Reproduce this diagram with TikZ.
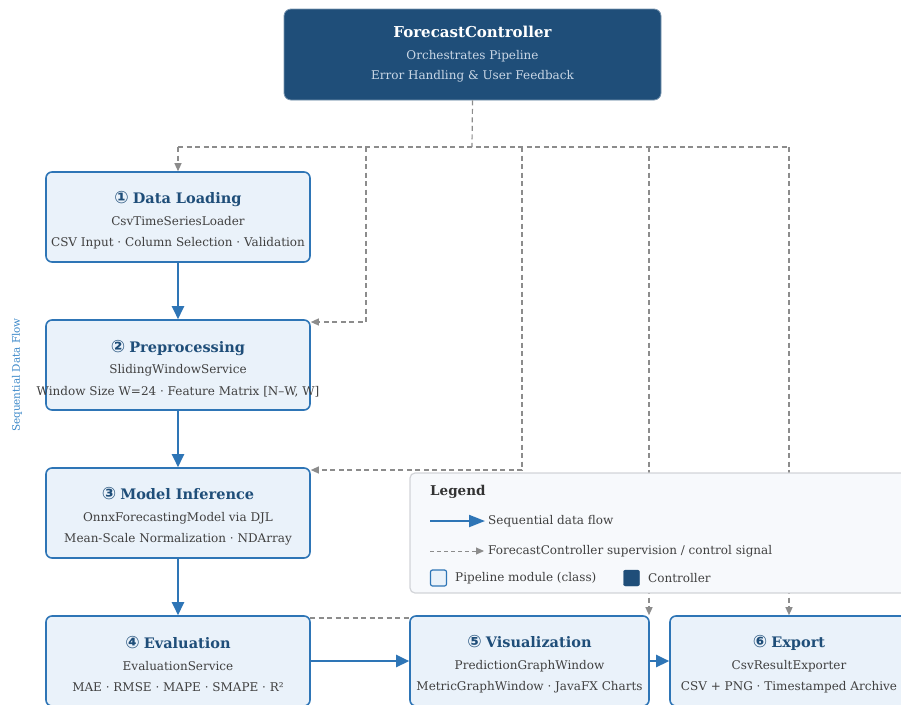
\documentclass[tikz,border=0pt]{standalone}
\usepackage{fontspec}
\setmainfont{DejaVu Serif}
\newfontfamily\circfont{DejaVu Sans}
\usetikzlibrary{arrows.meta}

\definecolor{navy}{HTML}{1F4E79}
\definecolor{flowblue}{HTML}{2E75B6}
\definecolor{modfill}{HTML}{EAF2FA}
\definecolor{bodytext}{HTML}{404040}
\definecolor{ctlgray}{HTML}{8C8C8C}
\definecolor{subtext}{HTML}{C9D7E6}
\definecolor{legfill}{HTML}{F7F9FC}
\definecolor{legline}{HTML}{D2D4D8}
\definecolor{sideblue}{HTML}{3A87C8}

% module heading: circled step number plus bold name; the strut nudges the block down a little
\newcommand\modtitle[2]{{\color{navy}\fontsize{14.5}{21}\selectfont\bfseries\rule{0pt}{19pt}{\circfont\fontsize{17}{21}\selectfont #1}\hspace{4pt}#2}}

\tikzset{
  x=1pt, y=-1pt,
  module/.style={draw=flowblue, line width=1.6pt, fill=modfill, rounded corners=6pt,
    minimum height=90pt, align=center, text=bodytext, inner sep=0pt,
    font=\fontsize{12}{21.5}\selectfont},
  ctrlbox/.style={draw=navy!60!white, line width=0.8pt, fill=navy, rounded corners=7pt,
    minimum width=377pt, minimum height=91pt, align=center, text=subtext, inner sep=0pt,
    font=\fontsize{12}{20.5}\selectfont},
  flow/.style={draw=flowblue, line width=2.4pt, -{Triangle[length=13pt, width=12pt]}},
  ctl/.style={draw=ctlgray, line width=1.2pt, dash pattern=on 5pt off 3.5pt},
  ctlarrow/.style={ctl, -{Triangle[length=8pt, width=7pt]}},
  legendbox/.style={draw=legline, line width=1.2pt, fill=legfill, rounded corners=5pt},
  legtext/.style={anchor=west, inner sep=0pt, text=bodytext, font=\fontsize{12}{14}\selectfont},
}

\begin{document}
\begin{tikzpicture}
\useasboundingbox (0,0) rectangle (901,704);

% controller
\node[ctrlbox] (ctrl) at (472.5,54.5)
  {{\color{white}\fontsize{15}{20}\selectfont\bfseries ForecastController}\\[1pt]
   Orchestrates Pipeline\\ Error Handling \& User Feedback};

% bus and branch points
\coordinate (bus) at (472,147);
\coordinate (b1) at (178,147);
\coordinate (b2) at (366,147);
\coordinate (b3) at (522,147);
\coordinate (b4) at (649,147);
\coordinate (b5) at (789,147);
\coordinate (p2) at (366,322);
\coordinate (p3) at (522,470);

% pipeline modules (the long Preprocessing line is allowed to spill past the frame)
\node[module, minimum width=264pt] (load) at (178,217)
  {\modtitle{①}{Data Loading}\\ CsvTimeSeriesLoader\\ CSV Input · Column Selection · Validation};
\node[module, minimum width=264pt] (prep) at (178,365)
  {\modtitle{②}{Preprocessing}\\ SlidingWindowService\\ \makebox[0pt][c]{Window Size W=24 · Feature Matrix [N–W, W]}};
\node[module, minimum width=264pt] (infer) at (178,513)
  {\modtitle{③}{Model Inference}\\ OnnxForecastingModel via DJL\\ Mean-Scale Normalization · NDArray};

% supervision line to the evaluation stage, running behind the visualization box
\coordinate (evalctl) at (310,618);
\coordinate (visctl) at (420,618);
\draw[ctl] (evalctl) -- (visctl);

\node[module, minimum width=264pt] (eval) at (178,661)
  {\modtitle{④}{Evaluation}\\ EvaluationService\\ MAE · RMSE · MAPE · SMAPE · R²};
\node[module, minimum width=239pt] (vis) at (529.5,661)
  {\modtitle{⑤}{Visualization}\\ PredictionGraphWindow\\ MetricGraphWindow · JavaFX Charts};
\node[module, minimum width=238pt] (export) at (789,661)
  {\modtitle{⑥}{Export}\\ CsvResultExporter\\ CSV + PNG · Timestamped Archive};

% supervision connectors
\draw[ctl] (ctrl.south) -- (bus);
\draw[ctl] (b1) -- (b5);
\draw[ctlarrow] (b1) -- (load.north);
\draw[ctlarrow] (b2) -- (p2) -- (p2 -| prep.east);
\draw[ctlarrow] (b3) -- (p3) -- (p3 -| infer.east);
\draw[ctlarrow] (b4) -- (b4 |- vis.north);
\draw[ctlarrow] (b5) -- (b5 |- export.north);

% sequential data flow
\draw[flow] (load) -- (prep);
\draw[flow] (prep) -- (infer);
\draw[flow] (infer) -- (eval);
\draw[flow] (eval.east) -- (vis.west);
\draw[flow] (vis.east) -- (export.west);

\node[rotate=90, text=sideblue, inner sep=0pt, font=\fontsize{10.4}{11}\selectfont] (sidelabel) at (17,375) {Sequential Data Flow};

% legend
\node[legendbox, minimum width=500pt, minimum height=120pt, inner sep=0pt] (legend) at (660,533) {};
\node[legtext, font=\fontsize{13.5}{14}\selectfont\bfseries, text=black!80] (legtitle) at (430,492) {Legend};
\coordinate (lf1) at (430,521);
\coordinate (lf2) at (485,521);
\draw[flow, line width=2pt, -{Triangle[length=16pt, width=12pt]}] (lf1) -- (lf2);
\node[legtext] (legflow) at (488,521) {Sequential data flow};
\coordinate (lc1) at (430,551);
\coordinate (lc2) at (484,551);
\draw[ctlarrow, line width=1pt, dash pattern=on 4pt off 3pt] (lc1) -- (lc2);
\node[legtext] (legctl) at (488,551) {ForecastController supervision / control signal};
\node[draw=flowblue, line width=1.2pt, fill=modfill, rounded corners=2pt, minimum size=16pt, inner sep=0pt] (legmodsq) at (438.5,578) {};
\node[legtext] (legmod) at (455,578) {Pipeline module (class)};
\node[draw=navy, fill=navy, rounded corners=2pt, minimum size=16pt, inner sep=0pt] (legctrlsq) at (631.5,578) {};
\node[legtext] (legctrl) at (648,578) {Controller};
\end{tikzpicture}
\end{document}
